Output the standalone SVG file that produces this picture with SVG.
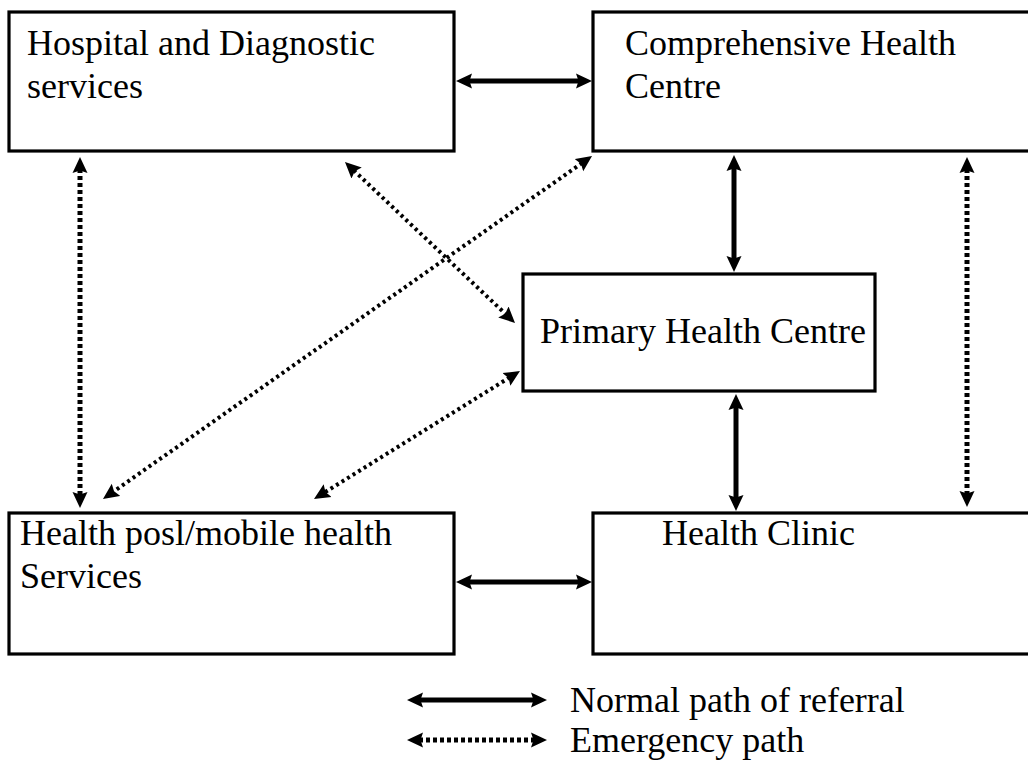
<svg xmlns="http://www.w3.org/2000/svg" width="1028" height="760" viewBox="0 0 1028 760">
<style>
.box{fill:#fff;stroke:#000;stroke-width:3.2}
.t{font-family:'Liberation Serif','Times New Roman',Times,'DejaVu Serif',serif;font-size:36px;fill:#000}
.solid{stroke:#000;stroke-width:5;fill:none;marker-start:url(#ah);marker-end:url(#ah)}
.dotv{stroke:#000;stroke-width:5;stroke-dasharray:4 3;fill:none;marker-start:url(#ah);marker-end:url(#ah)}
.dotd{stroke:#000;stroke-width:4;stroke-dasharray:3 3.5;fill:none;marker-start:url(#ah);marker-end:url(#ah)}
</style>
<defs>
<marker id="ah" markerUnits="userSpaceOnUse" viewBox="0 0 16 16" markerWidth="16" markerHeight="16" refX="4" refY="8" orient="auto-start-reverse">
<path d="M0,0.5 L16,8 L0,15.5 L2.5,8 z" fill="#000" stroke="none"/>
</marker>
</defs>
<rect width="1028" height="760" fill="#fff"/>
<g id="hospital">
<rect class="box" x="9" y="12" width="445" height="139"/>
<text class="t" font-family="Liberation Serif, serif" x="27" y="55">Hospital and Diagnostic</text>
<text class="t" font-family="Liberation Serif, serif" x="27" y="98">services</text>
</g>
<g id="comprehensive">
<rect class="box" x="593" y="12" width="450" height="139"/>
<text class="t" font-family="Liberation Serif, serif" x="625" y="55">Comprehensive Health</text>
<text class="t" font-family="Liberation Serif, serif" x="625" y="98">Centre</text>
</g>
<g id="primary">
<rect class="box" x="523" y="274" width="352" height="117"/>
<text class="t" font-family="Liberation Serif, serif" x="540" y="343">Primary Health Centre</text>
</g>
<g id="healthpost">
<rect class="box" x="9" y="513" width="445" height="141"/>
<text class="t" font-family="Liberation Serif, serif" x="20" y="545">Health posl/mobile health</text>
<text class="t" font-family="Liberation Serif, serif" x="20" y="588">Services</text>
</g>
<g id="clinic">
<rect class="box" x="593" y="513" width="450" height="141"/>
<text class="t" font-family="Liberation Serif, serif" x="662" y="545">Health Clinic</text>
</g>
<g id="connectors">
<line class="solid" x1="468" y1="81" x2="580" y2="81"/>
<line class="dotv" x1="80" y1="169" x2="80" y2="496"/>
<line class="dotd" x1="353.7" y1="170.3" x2="506.3" y2="314.7"/>
<line class="dotd" x1="582.2" y1="162.9" x2="112.8" y2="492.1"/>
<line class="solid" x1="734" y1="167" x2="734" y2="260"/>
<line class="dotv" x1="967" y1="169" x2="967" y2="495"/>
<line class="dotd" x1="509.8" y1="377.3" x2="324.2" y2="492.7"/>
<line class="solid" x1="736" y1="406" x2="736" y2="499"/>
<line class="solid" x1="468" y1="582" x2="580" y2="582"/>
</g>
<g id="legend">
<line class="solid" x1="419" y1="700" x2="535" y2="700"/>
<line class="dotv" x1="419" y1="740" x2="535" y2="740"/>
<text class="t" font-family="Liberation Serif, serif" x="570" y="712">Normal path of referral</text>
<text class="t" font-family="Liberation Serif, serif" x="570" y="752">Emergency path</text>
</g>
</svg>
